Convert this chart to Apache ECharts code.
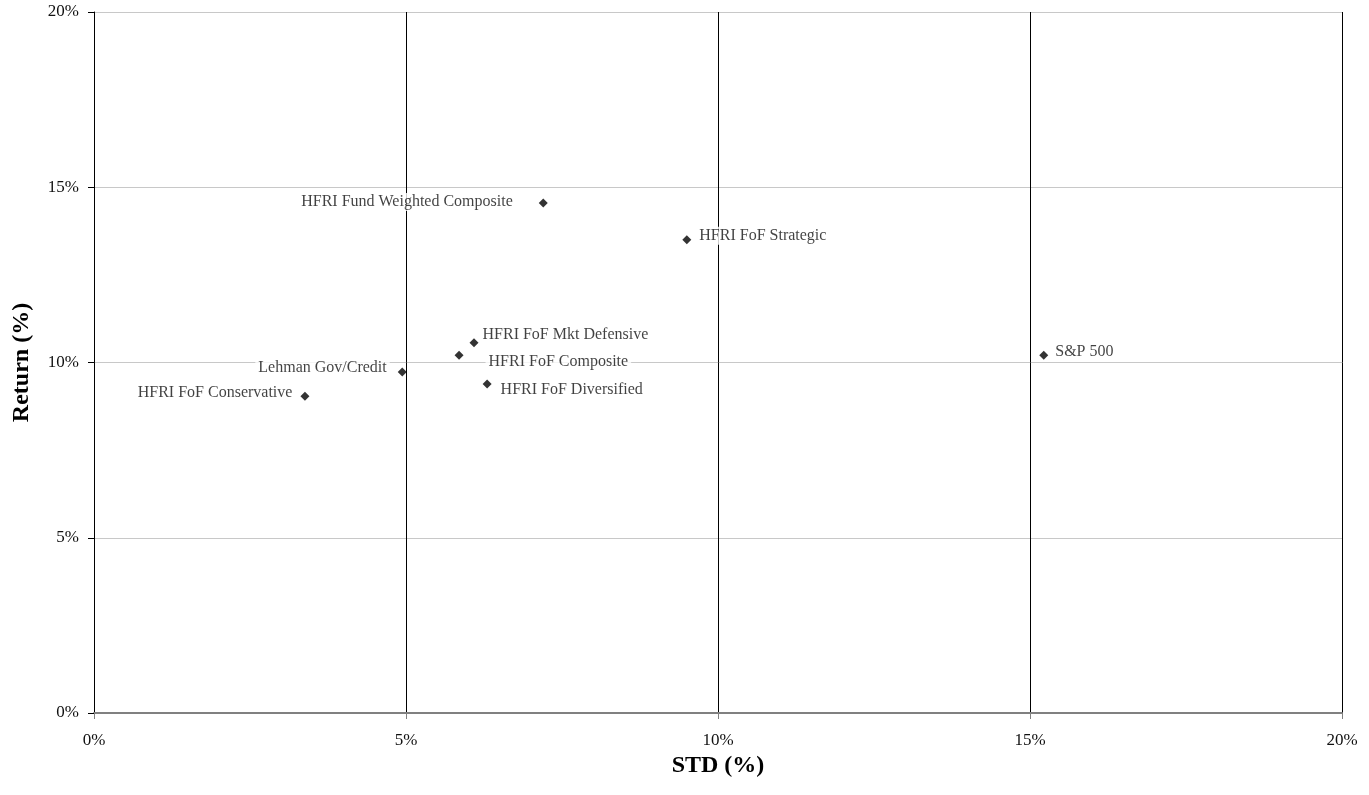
<!DOCTYPE html>
<html>
<head>
<meta charset="utf-8">
<script src="https://cdn.jsdelivr.net/npm/echarts@6/dist/echarts.min.js"></script>
<style>html,body{margin:0;padding:0;background:#fff;}#c{width:1369px;height:795px;}</style>
</head>
<body>
<div id="c"></div>
<script>
const names = ['HFRI Fund Weighted Composite','HFRI FoF Strategic','HFRI FoF Mkt Defensive','HFRI FoF Composite','HFRI FoF Diversified','Lehman Gov/Credit','HFRI FoF Conservative','S&P 500'];
const stdValues = [7.20, 9.50, 6.09, 5.85, 6.30, 4.94, 3.38, 15.22];
const returnValues = [14.55, 13.50, 10.56, 10.21, 9.39, 9.73, 9.04, 10.21];
const tickValues = [0, 5, 10, 15, 20];

// label placement (style only): side, dx, dy
const labelSide = ['left','right','right','right','right','left','left','right'];
const labelDx = [-19, 1, -3, 18, 2, -4, -1, 0];
const labelDy = [-1, -4, -8, 7, 6, -4, -3, -3];

const font = '"Liberation Serif","Times New Roman",serif';
const data = names.map((n,i)=>({
  name:n, value:[stdValues[i], returnValues[i]],
  label:{show:true, formatter:n, position:labelSide[i], distance:4,
    color:'#111', fontFamily:font, fontSize:16, backgroundColor:'#fff', padding:[1,3]}
}));

const chart = echarts.init(document.getElementById('c'));
chart.setOption({
  animation:false,
  backgroundColor:'#fff',
  grid:{left:94, right:27, top:12, bottom:82, containLabel:false},
  xAxis:{
    type:'value', min:tickValues[0], max:tickValues[tickValues.length-1], interval:5,
    name:'STD (%)', nameLocation:'middle', nameGap:36,
    nameTextStyle:{fontFamily:font, fontSize:24, fontWeight:'bold', color:'#000'},
    axisLine:{show:true, lineStyle:{color:'#808080', width:2}},
    axisTick:{show:true, length:6, lineStyle:{color:'#808080'}},
    axisLabel:{formatter:v=>v+'%', fontFamily:font, fontSize:17, color:'#111', margin:19},
    splitLine:{show:true, lineStyle:{color:'#000', width:1}}
  },
  yAxis:{
    type:'value', min:tickValues[0], max:tickValues[tickValues.length-1], interval:5,
    name:'Return (%)', nameLocation:'middle', nameGap:60, nameRotate:90,
    nameTextStyle:{fontFamily:font, fontSize:24, fontWeight:'bold', color:'#000'},
    axisLine:{show:true, lineStyle:{color:'#000', width:1}},
    axisTick:{show:true, length:6, lineStyle:{color:'#000'}},
    axisLabel:{formatter:v=>v+'%', fontFamily:font, fontSize:17, color:'#111', margin:15},
    splitLine:{show:true, lineStyle:{color:'#c8c8c8', width:1}}
  },
  series:[{
    type:'scatter', symbol:'diamond', symbolSize:9,
    itemStyle:{color:'#000'},
    data:data,
    labelLayout:function(p){ return {dx:labelDx[p.dataIndex], dy:labelDy[p.dataIndex], hideOverlap:false}; }
  }]
});
</script>
</body>
</html>
